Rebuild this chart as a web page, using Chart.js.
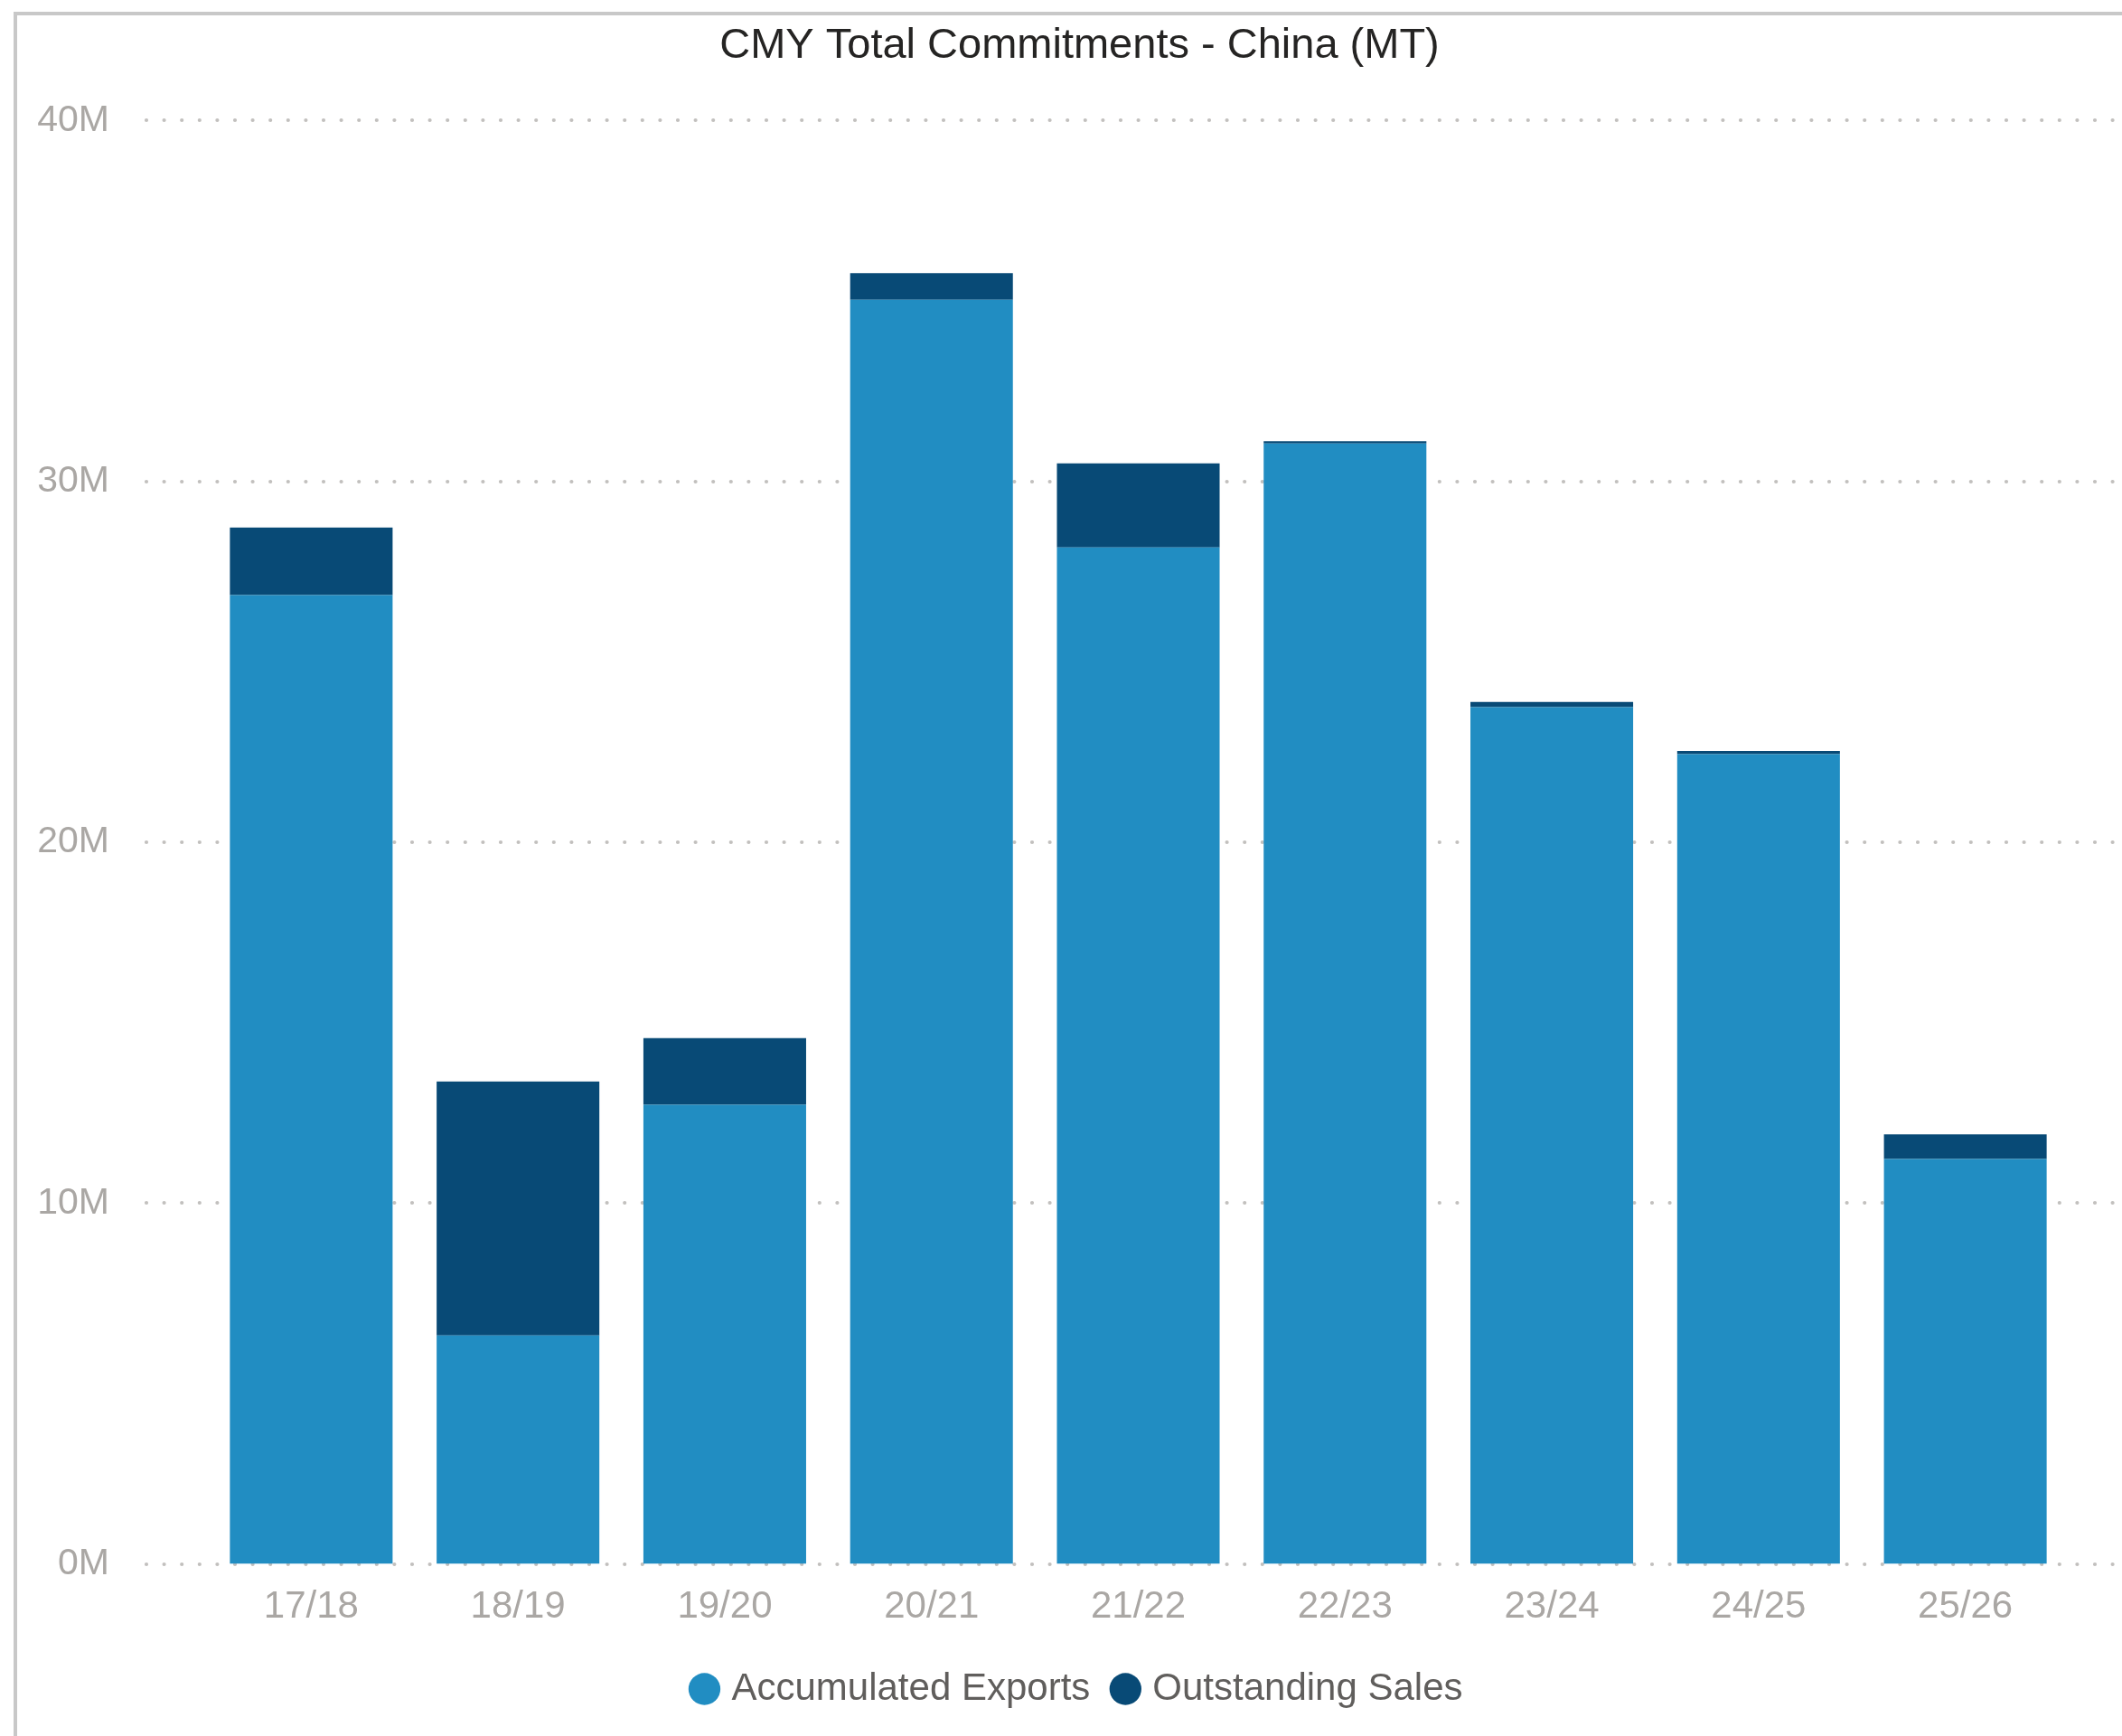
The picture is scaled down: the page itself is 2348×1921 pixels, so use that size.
<!DOCTYPE html>
<html>
<head>
<meta charset="utf-8">
<script src="https://cdn.jsdelivr.net/npm/chart.js@4.4.1/dist/chart.umd.min.js"></script>
<style>
  html, body { margin: 0; padding: 0; background: #fff; overflow: hidden; }
  #frame { position: absolute; left: 15px; top: 13px; width: 2400px; height: 2000px;
           border-left: 4px solid #c8c8c8; border-top: 4px solid #c8c8c8; }
  #wrap { position: absolute; left: 0; top: 0; width: 2348px; height: 1921px; }
</style>
</head>
<body>
<div id="frame"></div>
<div id="wrap"><canvas id="chart" width="2348" height="1921"></canvas></div>
<script>
// Marketing years
const seasons = ["17/18", "18/19", "19/20", "20/21", "21/22", "22/23", "23/24", "24/25", "25/26"];

// Metric tonnes
const accumulatedExports = [26.85e6, 6.33e6, 12.72e6, 35.03e6, 28.17e6, 31.05e6, 23.74e6, 22.44e6, 11.22e6];
const outstandingSales = [1.87e6, 7.04e6, 1.85e6, 0.74e6, 2.33e6, 0.06e6, 0.15e6, 0.09e6, 0.68e6];

// Value axis
const yMax = 40e6;
const yStep = 10e6;

const FONT = 'Arial, "Liberation Sans", sans-serif';

// Dotted gridlines that run past the plot area like the original
const dottedGrid = {
  id: "dottedGrid",
  beforeDatasetsDraw(chart) {
    const { ctx, scales: { y }, chartArea } = chart;
    ctx.save();
    ctx.strokeStyle = "#c2c0be";
    ctx.lineWidth = 4.2;
    ctx.lineCap = "round";
    ctx.setLineDash([0, 19.6]);
    y.ticks.forEach(t => {
      const py = Math.round(y.getPixelForValue(t.value));
      ctx.beginPath();
      ctx.moveTo(chartArea.left - 68, py);
      ctx.lineTo(chart.width, py);
      ctx.stroke();
    });
    ctx.restore();
  }
};

// Title and legend are centred on the visual, not on the area right of the y labels
const recentre = {
  id: "recentre",
  afterLayout(chart) {
    const shift = 80;
    if (chart.titleBlock) chart.titleBlock.left += shift;
    if (chart.legend) chart.legend.left += shift;
  }
};

new Chart(document.getElementById("chart").getContext("2d"), {
  type: "bar",
  data: {
    labels: seasons,
    datasets: [
      {
        label: "Accumulated Exports",
        data: accumulatedExports,
        backgroundColor: "#218dc2",
        borderWidth: 0,
      },
      {
        label: "Outstanding Sales",
        data: outstandingSales,
        backgroundColor: "#084a76",
        borderWidth: 0,
      },
    ],
  },
  options: {
    responsive: false,
    devicePixelRatio: 1,
    animation: false,
    layout: { padding: { left: 20, right: 59, top: 0, bottom: 21 } },
    datasets: { bar: { categoryPercentage: 1, barPercentage: 0.787 } },
    plugins: {
      tooltip: { enabled: false },
      title: {
        display: true,
        text: "CMY Total Commitments - China (MT)",
        color: "#252423",
        font: { family: FONT, size: 47, weight: "normal" },
        padding: { top: 23, bottom: 54 },
      },
      legend: {
        position: "bottom",
        labels: {
          usePointStyle: true,
          pointStyle: "circle",
          boxWidth: 18,
          boxHeight: 25,
          padding: 30,
          color: "#605e5c",
          font: { family: FONT, size: 42 },
        },
      },
    },
    scales: {
      x: {
        stacked: true,
        grid: { display: false },
        border: { display: false },
        ticks: { color: "#aaa7a4", padding: 15, font: { family: FONT, size: 42 } },
        afterFit: s => { s.height = 87.5; },
      },
      y: {
        stacked: true,
        min: 0,
        max: yMax,
        grid: { display: false },
        border: { display: false },
        ticks: {
          stepSize: yStep,
          color: "#aaa7a4",
          padding: 101,
          font: { family: FONT, size: 41 },
          callback: v => (v / 1e6) + "M",
        },
        afterFit: s => { s.width = 210; },
      },
    },
  },
  plugins: [dottedGrid, recentre],
});
</script>
</body>
</html>
